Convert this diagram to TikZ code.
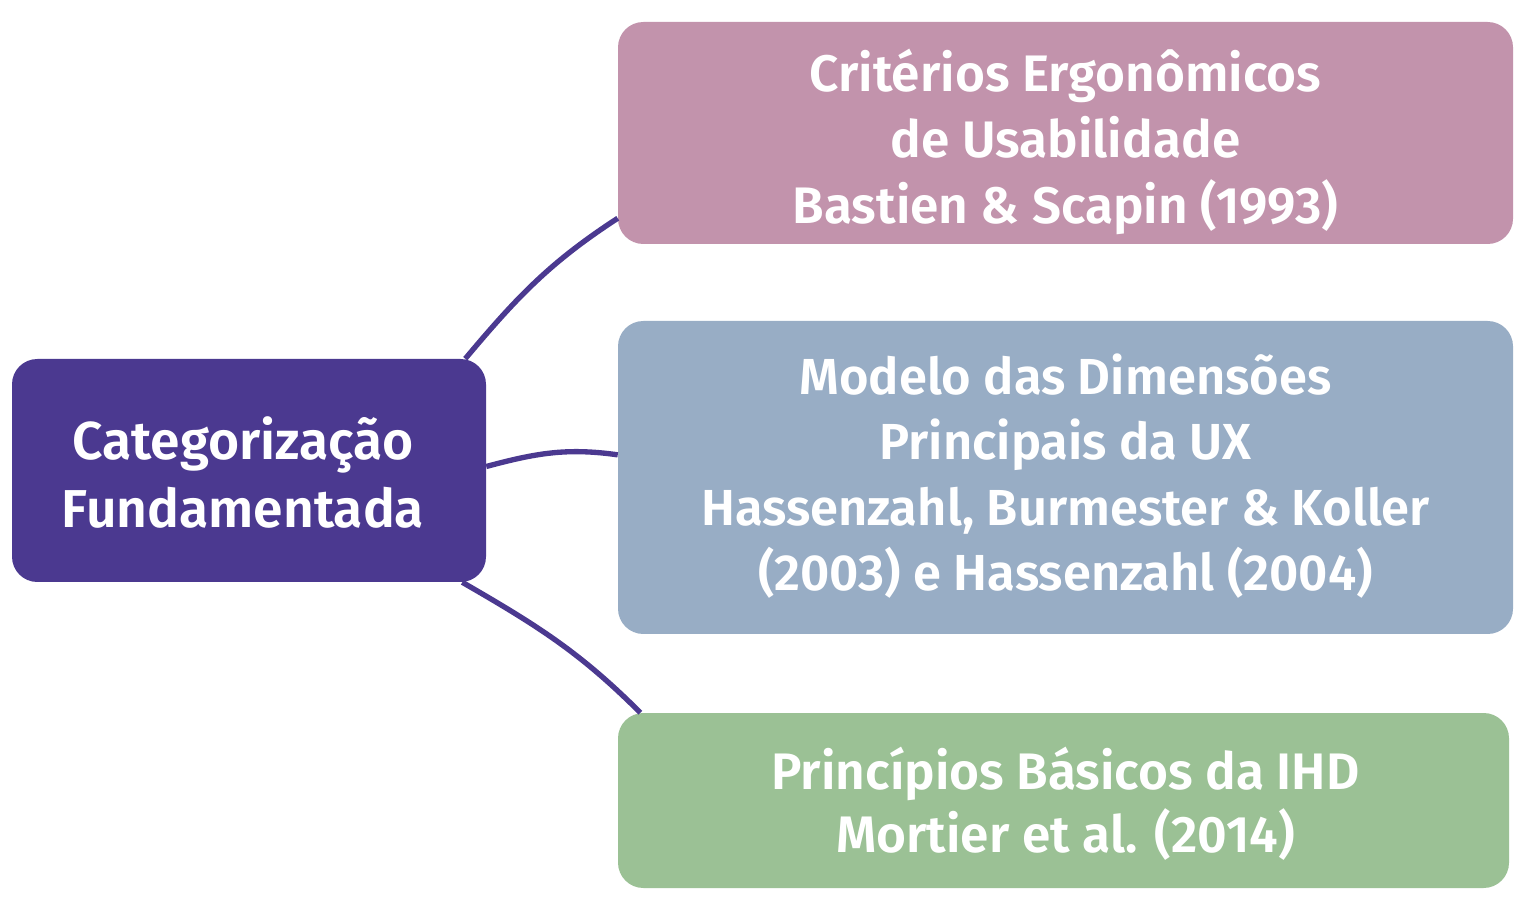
\documentclass[tikz,border=0pt]{standalone}
\usepackage{fontspec}
\setmainfont{Fira Sans SemiBold}
\definecolor{catc}{HTML}{4B3990}
\definecolor{pinkc}{HTML}{C293AC}
\definecolor{bluec}{HTML}{98ADC5}
\definecolor{greenc}{HTML}{9BC195}
\tikzset{
  box/.style={rounded corners=19pt, draw=none, inner sep=0pt},
  label/.style={text=white, align=center, inner sep=0pt},
  conn/.style={draw=catc, line width=4pt}
}
\begin{document}
\begin{tikzpicture}[x=0.75pt,y=-0.75pt]
\useasboundingbox (0,0) rectangle (1536,912);
\node[box, fill=catc, minimum width=355.5pt, minimum height=167.25pt] (cat) at (249,470.5) {};
\node[label, font=\fontsize{40}{51}\selectfont] (catt) at (243,473) {Categorização\\Fundamentada};
\node[box, fill=pinkc, minimum width=671.25pt, minimum height=166.5pt] (b1) at (1065.5,133) {};
\node[label, font=\fontsize{38.5}{49.5}\selectfont] (b1t) at (1065.5,142) {Critérios Ergonômicos\\de Usabilidade\\Bastien \& Scapin (1993)};
\node[box, fill=bluec, minimum width=671.25pt, minimum height=234.75pt] (b2) at (1065.5,477.5) {};
\node[label, font=\fontsize{38}{49}\selectfont] (b2t) at (1065.5,476) {Modelo das Dimensões\\Principais da UX\\Hassenzahl, Burmester \& Koller\\(2003) e Hassenzahl (2004)};
\node[box, fill=greenc, minimum width=668.25pt, minimum height=131.25pt] (b3) at (1063.5,800.5) {};
\node[label, font=\fontsize{38.5}{47}\selectfont] (b3t) at (1065.5,804) {Princípios Básicos da IHD\\Mortier et al. (2014)};
\draw[conn] ([xshift=-15.75pt]cat.north east) to[out=50,in=213] ([yshift=19.5pt]b1.south west);
\draw[conn] ([yshift=3pt]cat.east) to[out=15,in=172] ([yshift=17pt]b2.west);
\draw[conn] ([xshift=-18pt]cat.south east) to[out=-30,in=135] ([xshift=17pt]b3.north west);
\end{tikzpicture}
\end{document}
